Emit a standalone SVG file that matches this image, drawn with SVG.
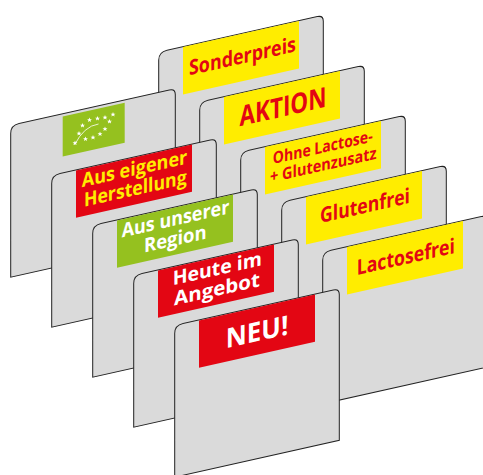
<svg xmlns="http://www.w3.org/2000/svg" xmlns:xlink="http://www.w3.org/1999/xlink" width="483" height="475" viewBox="0 0 483 475">
<style>
.card{fill:#dadada;stroke:#222;stroke-width:1}
.r{fill:#e30613}.y{fill:#ffed00}.g{fill:#95c11f}
text{font-family:"Open Sans","Noto Sans","Liberation Sans",sans-serif;font-weight:700;text-anchor:middle}
.tr{fill:#e30613}.ty{fill:#ffed00}.tw{fill:#fff}
.star{fill:#fff}
</style>
<defs>
<path id="c" class="card" d="M-24.3 151.7V8Q-24.3 0-16 0H134.3Q140.3 0 140.3 6V151.7Z"/>
<polygon id="s" class="star" points="0,-2.6 .7,-.8 2.5,-.8 1.1,.3 1.6,2.1 0,1 -1.6,2.1 -1.1,.3 -2.5,-.8 -.7,-.8"/>
</defs>
<g id="sonderpreis" transform="matrix(1,-.224,0,1,183,46.7)"><use xlink:href="#c"/><rect class="y" y=".4" width="116" height="47.3"/><text class="tr" x="59.5" y="30" font-size="21" textLength="107" lengthAdjust="spacingAndGlyphs">Sonderpreis</text></g>
<g id="aktion" transform="matrix(1,-.224,0,1,224,96.7)"><use xlink:href="#c"/><rect class="y" y=".4" width="116" height="47.3"/><text class="tr" x="59" y="33" font-size="28" textLength="87" lengthAdjust="spacingAndGlyphs">AKTION</text></g>
<g id="ohne" transform="matrix(1,-.224,0,1,265,146.7)"><use xlink:href="#c"/><rect class="y" y=".4" width="116" height="47.3"/><text class="tr" x="57.7" y="19" font-size="16.5" textLength="100" lengthAdjust="spacingAndGlyphs">Ohne Lactose-</text><text class="tr" x="58.3" y="37" font-size="16.5" textLength="106.7" lengthAdjust="spacingAndGlyphs">+ Glutenzusatz</text></g>
<g id="glutenfrei" transform="matrix(1,-.224,0,1,306,196.7)"><use xlink:href="#c"/><rect class="y" y=".4" width="116" height="47.3"/><text class="tr" x="59" y="29.5" font-size="21" textLength="90" lengthAdjust="spacingAndGlyphs">Glutenfrei</text></g>
<g id="lactosefrei" transform="matrix(1,-.224,0,1,347,246.7)"><use xlink:href="#c"/><rect class="y" y=".4" width="116" height="47.3"/><text class="tr" x="58.8" y="30.5" font-size="21" textLength="98.3" lengthAdjust="spacingAndGlyphs">Lactosefrei</text></g>
<g id="bio" transform="matrix(1,-.224,0,1,35,120)"><use xlink:href="#c"/><rect class="g" x="27.7" y="2.8" width="62" height="40"/></g>
<g id="bio-logo">
<path d="M74.5 145Q84 126 98.5 124" fill="none" stroke="#fff" stroke-width=".8"/>
<use xlink:href="#s" x="113" y="114.5"/><use xlink:href="#s" x="105" y="117.5"/><use xlink:href="#s" x="97.5" y="118.5"/><use xlink:href="#s" x="89.5" y="120"/><use xlink:href="#s" x="82.5" y="125.5"/><use xlink:href="#s" x="79" y="133.5"/><use xlink:href="#s" x="75" y="143"/><use xlink:href="#s" x="85.5" y="139"/><use xlink:href="#s" x="93" y="137.5"/><use xlink:href="#s" x="100" y="134"/><use xlink:href="#s" x="105" y="129"/><use xlink:href="#s" x="109.5" y="121.5"/>
</g>
<g id="eigener" transform="matrix(1,-.224,0,1,76,170)"><use xlink:href="#c"/><rect class="r" y=".4" width="116" height="47.3"/><text class="ty" x="58.5" y="18.5" font-size="19.5" textLength="105.6" lengthAdjust="spacingAndGlyphs">Aus eigener</text><text class="ty" x="59.3" y="38.5" font-size="19.5" textLength="102.7" lengthAdjust="spacingAndGlyphs">Herstellung</text></g>
<g id="unserer" transform="matrix(1,-.224,0,1,117,220)"><use xlink:href="#c"/><rect class="g" y=".4" width="116" height="47.3"/><text class="tw" x="58.5" y="18.5" font-size="19.5" textLength="107.6" lengthAdjust="spacingAndGlyphs">Aus unserer</text><text class="tw" x="58.3" y="38.5" font-size="19.5" textLength="62.7" lengthAdjust="spacingAndGlyphs">Region</text></g>
<g id="heute" transform="matrix(1,-.224,0,1,158,270)"><use xlink:href="#c"/><rect class="r" y=".4" width="116" height="47.3"/><text class="tw" x="59.3" y="18.5" font-size="19.5" textLength="89.3" lengthAdjust="spacingAndGlyphs">Heute im</text><text class="tw" x="59" y="39" font-size="19.5" textLength="86" lengthAdjust="spacingAndGlyphs">Angebot</text></g>
<g id="neu" transform="matrix(1,-.224,0,1,199,320)"><use xlink:href="#c"/><rect class="r" y=".4" width="116" height="47.3"/><text class="tw" x="58" y="34.3" font-size="27" textLength="62.6" lengthAdjust="spacingAndGlyphs">NEU!</text></g>
</svg>
